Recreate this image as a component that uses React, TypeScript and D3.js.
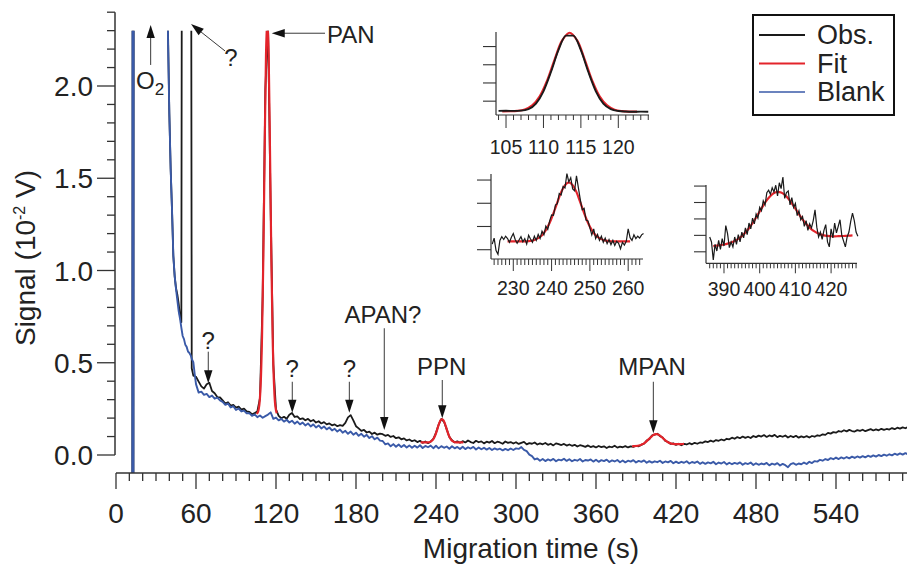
import React from 'react';
import * as d3 from 'd3';

const FONT = "'Liberation Sans', Arial, Helvetica, sans-serif";
const C_OBS = '#1a1a1a';
const C_FIT = '#e3242b';
const C_BLANK = '#3a5aa8';

// ---------- main axis ticks ----------
const xMajorTicks = [0, 60, 120, 180, 240, 300, 360, 420, 480, 540];
const yMajorTicks = [0, 0.5, 1.0, 1.5, 2.0];

// ---------- main chart: observed (black) ----------
const obsEarlyT = [12.2, 12.6, 13.0, 13.4, 38.4, 39, 40, 41, 42, 43, 44, 45, 46, 47, 48, 49, 49.8, 56.0, 56.8, 58];
const obsEarlyV = [-1, 5, -1, 5, 5, 2.3, 1.85, 1.55, 1.33, 1.08, 0.97, 0.905, 0.87, 0.82, 0.75, 0.72, 5, 5, 0.47, 0.43];
const gridStart = 60;
const gridStep = 2;
const obsGridV = [
  0.424, 0.398, 0.372, 0.36, 0.383, 0.392, 0.347, 0.335, 0.314, 0.312,
  0.296, 0.279, 0.286, 0.268, 0.271, 0.257, 0.262, 0.246, 0.251, 0.236,
  0.234, 0.221, 0.227, 0.236, 0.31, 0.86, 1.98, 2.34, 1.33, 0.49,
  0.248, 0.212, 0.199, 0.207, 0.196, 0.218, 0.228, 0.206, 0.209, 0.194,
  0.199, 0.188, 0.196, 0.183, 0.19, 0.176, 0.183, 0.171, 0.178, 0.166,
  0.171, 0.161, 0.166, 0.156, 0.162, 0.158, 0.174, 0.204, 0.216, 0.188,
  0.156, 0.144, 0.131, 0.136, 0.122, 0.127, 0.114, 0.121, 0.11, 0.116,
  0.113, 0.104, 0.109, 0.098, 0.103, 0.091, 0.096, 0.085, 0.09, 0.079,
  0.084, 0.075, 0.08, 0.07, 0.077, 0.066, 0.073, 0.064, 0.072, 0.088,
  0.12, 0.165, 0.196, 0.18, 0.14, 0.098, 0.08, 0.068, 0.074, 0.066,
  0.075, 0.068, 0.079, 0.07, 0.065, 0.077, 0.069, 0.074, 0.063, 0.072,
  0.067, 0.076, 0.064, 0.072, 0.068, 0.061, 0.073, 0.066, 0.07, 0.062,
  0.069, 0.06, 0.066, 0.071, 0.058, 0.064, 0.061, 0.068, 0.057, 0.063,
  0.058, 0.065, 0.055, 0.061, 0.052, 0.063, 0.059, 0.054, 0.06, 0.051,
  0.057, 0.05, 0.055, 0.046, 0.053, 0.049, 0.044, 0.052, 0.043, 0.048,
  0.041, 0.049, 0.043, 0.047, 0.038, 0.046, 0.042, 0.05, 0.04, 0.045,
  0.042, 0.048, 0.041, 0.047, 0.044, 0.05, 0.047, 0.055, 0.061, 0.078,
  0.086, 0.106, 0.11, 0.115, 0.102, 0.095, 0.076, 0.071, 0.06, 0.063,
  0.055, 0.061, 0.053, 0.06, 0.057, 0.064, 0.058, 0.066, 0.061, 0.068,
  0.066, 0.074, 0.07, 0.078, 0.072, 0.081, 0.077, 0.084, 0.079, 0.088,
  0.085, 0.094, 0.088, 0.097, 0.091, 0.1, 0.093, 0.099, 0.092, 0.103,
  0.097, 0.105, 0.1, 0.108, 0.098, 0.106, 0.101, 0.109, 0.097, 0.104,
  0.099, 0.106, 0.095, 0.103, 0.097, 0.104, 0.094, 0.101, 0.096, 0.102,
  0.095, 0.103, 0.099, 0.107, 0.104, 0.112, 0.109, 0.12, 0.116, 0.124,
  0.121, 0.13, 0.126, 0.134, 0.128, 0.136, 0.13, 0.127, 0.135, 0.131,
  0.137, 0.129, 0.135, 0.14, 0.133, 0.139, 0.134, 0.142, 0.136, 0.141,
  0.138, 0.146, 0.14, 0.148, 0.143, 0.15, 0.145, 0.152, 0.147, 0.153,
  0.15,
];

// ---------- main chart: blank (blue) ----------
const blankEarlyT = [12.2, 12.6, 13.0, 13.4, 38.2, 39, 40, 41, 42, 43, 44, 45, 46, 47, 48, 49, 50, 51, 52, 53, 54, 55, 56, 57, 58, 59];
const blankEarlyV = [-1, 5, -1, 5, 5, 2.25, 1.85, 1.55, 1.33, 1.08, 0.97, 0.9, 0.84, 0.78, 0.74, 0.69, 0.645, 0.628, 0.597, 0.586, 0.561, 0.553, 0.541, 0.518, 0.503, 0.44];
const blankGridV = [
  0.384, 0.338, 0.343, 0.326, 0.331, 0.314, 0.322, 0.305, 0.311, 0.296,
  0.288, 0.272, 0.279, 0.258, 0.265, 0.244, 0.252, 0.236, 0.241, 0.226,
  0.227, 0.212, 0.22, 0.205, 0.214, 0.202, 0.211, 0.219, 0.231, 0.196,
  0.203, 0.188, 0.196, 0.181, 0.191, 0.176, 0.186, 0.17, 0.181, 0.166,
  0.176, 0.16, 0.171, 0.155, 0.166, 0.149, 0.16, 0.144, 0.155, 0.139,
  0.149, 0.133, 0.142, 0.127, 0.138, 0.121, 0.131, 0.115, 0.127, 0.11,
  0.121, 0.104, 0.115, 0.099, 0.109, 0.092, 0.102, 0.085, 0.094, 0.078,
  0.076, 0.058, 0.063, 0.047, 0.059, 0.045, 0.057, 0.043, 0.054, 0.041,
  0.052, 0.039, 0.05, 0.04, 0.053, 0.038, 0.049, 0.042, 0.051, 0.037,
  0.05, 0.036, 0.048, 0.039, 0.046, 0.034, 0.047, 0.036, 0.044, 0.033,
  0.045, 0.032, 0.042, 0.035, 0.044, 0.03, 0.041, 0.031, 0.039, 0.029,
  0.038, 0.027, 0.036, 0.029, 0.034, 0.025, 0.033, 0.026, 0.035, 0.027,
  0.036, 0.033, 0.043, 0.028, 0.021, 0.002, -0.006, -0.024, -0.019, -0.031,
  -0.022, -0.033, -0.024, -0.03, -0.021, -0.034, -0.025, -0.029, -0.02, -0.032,
  -0.023, -0.034, -0.026, -0.031, -0.022, -0.035, -0.027, -0.03, -0.024, -0.036,
  -0.026, -0.037, -0.028, -0.033, -0.025, -0.038, -0.029, -0.035, -0.027, -0.039,
  -0.03, -0.04, -0.031, -0.036, -0.028, -0.041, -0.032, -0.037, -0.029, -0.042,
  -0.033, -0.041, -0.034, -0.039, -0.031, -0.043, -0.035, -0.04, -0.032, -0.045,
  -0.036, -0.044, -0.037, -0.042, -0.034, -0.046, -0.038, -0.043, -0.035, -0.048,
  -0.039, -0.048, -0.04, -0.045, -0.037, -0.05, -0.041, -0.046, -0.038, -0.051,
  -0.042, -0.05, -0.043, -0.048, -0.04, -0.053, -0.044, -0.049, -0.041, -0.054,
  -0.045, -0.053, -0.046, -0.051, -0.043, -0.056, -0.047, -0.052, -0.044, -0.057,
  -0.048, -0.055, -0.066, -0.05, -0.044, -0.053, -0.046, -0.05, -0.041, -0.049,
  -0.037, -0.044, -0.033, -0.036, -0.026, -0.031, -0.022, -0.027, -0.017, -0.023,
  -0.014, -0.022, -0.013, -0.019, -0.011, -0.018, -0.009, -0.016, -0.008, -0.014,
  -0.006, -0.013, -0.004, -0.01, -0.002, -0.009, 0.0, -0.006, 0.002, -0.004,
  0.004, -0.002, 0.007, 0.001, 0.009, 0.002, 0.01, 0.004, 0.012, 0.005,
  0.01,
];

// ---------- fits (red) ----------
const panFitT = [104.5, 105.5, 106.5, 107.5, 108.5, 109.5, 110.5, 111.5, 112.5, 113.5, 114.5, 115.5, 116.5, 117.5, 118.5, 119.5, 120.5, 121.5, 122.5];
const panFitV = [0.22, 0.223, 0.234, 0.272, 0.383, 0.634, 1.072, 1.649, 2.168, 2.38, 2.168, 1.649, 1.072, 0.634, 0.383, 0.265, 0.226, 0.214, 0.21];
const ppnFitT = [228.5, 229.5, 230.5, 231.5, 232.5, 233.5, 234.5, 235.5, 236.5, 237.5, 238.5, 239.5, 240.5, 241.5, 242.5, 243.5, 244.5, 245.5, 246.5, 247.5, 248.5, 249.5, 250.5, 251.5, 252.5, 253.5, 254.5, 255.5, 256.5, 257.5, 258.5, 259.5, 260.5];
const ppnFitV = [0.068, 0.068, 0.068, 0.068, 0.068, 0.068, 0.069, 0.071, 0.075, 0.081, 0.092, 0.108, 0.129, 0.152, 0.174, 0.189, 0.195, 0.189, 0.174, 0.152, 0.129, 0.108, 0.092, 0.081, 0.075, 0.071, 0.069, 0.068, 0.068, 0.068, 0.068, 0.068, 0.068];
const mpanFitT = [387, 388, 389, 390, 391, 392, 393, 394, 395, 396, 397, 398, 399, 400, 401, 402, 403, 404, 405, 406, 407, 408, 409, 410, 411, 412, 413, 414, 415, 416, 417, 418, 419, 420, 421, 422, 423, 424, 425, 426];
const mpanFitV = [0.047, 0.0476, 0.0482, 0.0489, 0.0499, 0.0513, 0.0532, 0.0557, 0.0591, 0.0634, 0.0687, 0.0749, 0.0818, 0.0891, 0.0963, 0.1028, 0.108, 0.1116, 0.113, 0.1122, 0.1094, 0.1048, 0.0989, 0.0925, 0.0858, 0.0795, 0.0741, 0.0694, 0.0657, 0.0631, 0.0612, 0.0599, 0.0593, 0.0589, 0.0588, 0.059, 0.0592, 0.0593, 0.0597, 0.06];

// ---------- inset observed data ----------
const panObsT = [104, 105, 106, 107, 108, 109, 110, 111, 112, 113, 114, 115, 116, 117, 118, 119, 120, 121, 122, 123, 124];
const panObsV = [0.232, 0.235, 0.234, 0.24, 0.28, 0.43, 0.77, 1.3, 1.9, 2.3, 2.3, 1.9, 1.3, 0.77, 0.43, 0.28, 0.23, 0.215, 0.21, 0.212, 0.208];
const ppnObsStart = 224.5;
const ppnObsV = [
  0.062, 0.075, 0.048, 0.040, 0.070, 0.078, 0.072, 0.079, 0.074, 0.066,
  0.077, 0.085, 0.072, 0.064, 0.071, 0.078, 0.067, 0.074, 0.062, 0.081,
  0.073, 0.066, 0.079, 0.070, 0.083, 0.074, 0.090, 0.082, 0.101, 0.094,
  0.112, 0.125, 0.124, 0.146, 0.149, 0.171, 0.168, 0.186, 0.183, 0.214,
  0.196, 0.205, 0.181, 0.177, 0.209, 0.183, 0.158, 0.136, 0.139, 0.114,
  0.112, 0.097, 0.082, 0.095, 0.074, 0.083, 0.070, 0.079, 0.066, 0.075,
  0.063, 0.072, 0.061, 0.070, 0.059, 0.068, 0.064, 0.052, 0.066, 0.060,
  0.068, 0.095, 0.076, 0.070, 0.082, 0.074, 0.079, 0.075, 0.082, 0.085,
];
const mpanObsStart = 386;
const mpanObsV = [
  0.058, 0.052, 0.030, 0.049, 0.041, 0.054, 0.043, 0.056, 0.047, 0.072,
  0.062, 0.045, 0.052, 0.046, 0.058, 0.049, 0.061, 0.052, 0.064, 0.057,
  0.069, 0.061, 0.075, 0.068, 0.081, 0.074, 0.086, 0.081, 0.094, 0.090,
  0.102, 0.097, 0.112, 0.115, 0.110, 0.118, 0.113, 0.121, 0.108, 0.124,
  0.117, 0.131, 0.105, 0.112, 0.114, 0.097, 0.106, 0.094, 0.099, 0.084,
  0.090, 0.079, 0.083, 0.071, 0.078, 0.066, 0.074, 0.069, 0.078, 0.091,
  0.070, 0.058, 0.064, 0.055, 0.066, 0.073, 0.052, 0.046, 0.068, 0.057,
  0.075, 0.063, 0.071, 0.079, 0.060, 0.053, 0.046, 0.058, 0.064, 0.077,
  0.087, 0.078, 0.064, 0.059,
];
const insetObsStep = 0.5;

// ---------- annotations (data coords: tip, tail, label) ----------
const annotations = [
  { label: '?', tipT: 56.25, tipV: 2.336, tailT: 81.75, tailV: 2.19, labT: 86.25, labV: 2.106, anchor: 'middle' },
  { label: 'PAN', tipT: 116.8, tipV: 2.286, tailT: 156.75, tailV: 2.286, labT: 158.25, labV: 2.233, anchor: 'start' },
  { label: '?', tipT: 69.2, tipV: 0.389, tailT: 69.2, tailV: 0.56, labT: 69.2, labV: 0.577, anchor: 'middle' },
  { label: '?', tipT: 132.2, tipV: 0.229, tailT: 132.2, tailV: 0.397, labT: 132.2, labV: 0.424, anchor: 'middle' },
  { label: '?', tipT: 175, tipV: 0.229, tailT: 175, tailV: 0.397, labT: 175, labV: 0.424, anchor: 'middle' },
  { label: 'APAN?', tipT: 201.2, tipV: 0.1355, tailT: 201.2, tailV: 0.687, labT: 200.25, labV: 0.714, anchor: 'middle' },
  { label: 'PPN', tipT: 244.7, tipV: 0.199, tailT: 244.7, tailV: 0.4065, labT: 244.3, labV: 0.4336, anchor: 'middle' },
  { label: 'MPAN', tipT: 403, tipV: 0.1176, tailT: 403, tailV: 0.397, labT: 402, labV: 0.4336, anchor: 'middle' },
];
const o2Arrow = { tipT: 26, tipV: 2.33, tailT: 26, tailV: 2.114, labT: 15, labV: 1.984 };

const legendItems = [
  { label: 'Obs.', color: C_OBS },
  { label: 'Fit', color: C_FIT },
  { label: 'Blank', color: C_BLANK },
];

type P = [number, number];
const zip = (t: number[], v: number[]): P[] => t.map((tt, i) => [tt, v[i]] as P);
const gridPts = (start: number, step: number, v: number[]): P[] => v.map((vv, i) => [start + i * step, vv] as P);

function Arrow({ x1, y1, x2, y2 }: { x1: number; y1: number; x2: number; y2: number }) {
  const dx = x2 - x1, dy = y2 - y1;
  const len = Math.hypot(dx, dy);
  const ux = dx / len, uy = dy / len;
  const hl = 13, hw = 4.2;
  const bx = x2 - ux * hl, by = y2 - uy * hl;
  const px = -uy, py = ux;
  return (
    <g>
      <line x1={x1} y1={y1} x2={bx + ux * 2} y2={by + uy * 2} stroke="#3a3a3a" strokeWidth={1} />
      <polygon points={`${x2},${y2} ${bx + px * hw},${by + py * hw} ${bx - px * hw},${by - py * hw}`} fill="#111" />
    </g>
  );
}

interface InsetProps {
  xd: [number, number]; xr: [number, number];
  yd: [number, number]; yr: [number, number];
  minorFrom: number; minorTo: number; majors: number[]; yTicks: number[];
  obs: P[]; fit: P[]; smoothObs?: boolean;
  labelDy: number; majorLen: number; minorLen: number; yTickLen: number;
}

function Inset(p: InsetProps) {
  const x = d3.scaleLinear().domain(p.xd).range(p.xr);
  const y = d3.scaleLinear().domain(p.yd).range(p.yr);
  const obsLine = d3.line<P>().x(d => x(d[0])).y(d => y(d[1])).curve(p.smoothObs ? d3.curveMonotoneX : d3.curveLinear);
  const fitLine = d3.line<P>().x(d => x(d[0])).y(d => y(d[1])).curve(d3.curveCatmullRom);
  const minors = d3.range(p.minorFrom, p.minorTo + 0.001, 1);
  const x0 = p.xr[0], yb = p.yr[0];
  return (
    <g>
      <path d={fitLine(p.fit) || ''} fill="none" stroke={C_FIT} strokeWidth={2.2} />
      <path d={obsLine(p.obs) || ''} fill="none" stroke={C_OBS} strokeWidth={p.smoothObs ? 1.9 : 1.2} />
      <line x1={x0} y1={p.yr[1]} x2={x0} y2={yb} stroke="#333" strokeWidth={1.2} />
      <line x1={x0} y1={yb} x2={p.xr[1]} y2={yb} stroke="#333" strokeWidth={1.2} />
      {p.yTicks.map(t => (
        <line key={'y' + t} x1={x0 - p.yTickLen} x2={x0} y1={y(t)} y2={y(t)} stroke="#333" strokeWidth={1.1} />
      ))}
      {minors.map(t => (
        <line key={'m' + t} x1={x(t)} x2={x(t)} y1={yb} y2={yb + (p.majors.includes(t) ? p.majorLen : p.minorLen)} stroke="#333" strokeWidth={1} />
      ))}
      {p.majors.map(t => (
        <text key={'l' + t} x={x(t)} y={yb + p.labelDy} textAnchor="middle" fontSize={19.5} fontFamily={FONT} fill="#222">{t}</text>
      ))}
    </g>
  );
}

export default function App() {
  const x = d3.scaleLinear().domain([0, 600]).range([116, 916]);
  const y = d3.scaleLinear().domain([0, 2.4]).range([455, 12.2]);
  const xAxisY = 473;
  const line = d3.line<P>().x(d => x(d[0])).y(d => y(d[1]));
  const smooth = d3.line<P>().x(d => x(d[0])).y(d => y(d[1])).curve(d3.curveCatmullRom);

  const obsPts = [...zip(obsEarlyT, obsEarlyV), ...gridPts(gridStart, gridStep, obsGridV)];
  const blankPts = [...zip(blankEarlyT, blankEarlyV), ...gridPts(gridStart, gridStep, blankGridV)];
  const panFit = zip(panFitT, panFitV);
  const ppnFit = zip(ppnFitT, ppnFitV);
  const mpanFit = zip(mpanFitT, mpanFitV);
  const panFitMain = panFit.filter(d => d[0] >= 105.5 && d[0] <= 120.5);

  const yMinor = d3.range(0, 2.401, 0.1);
  const xMinor = d3.range(0, 601, 10);
  const fmt = d3.format('.1f');

  return (
    <svg width={907} height={564} style={{ position: 'absolute', left: 0, top: 0, background: '#fff' }} fontFamily={FONT}>
      <defs>
        <clipPath id="plotClip">
          <rect x={x(0)} y={y(2.3)} width={x(600) - x(0)} height={xAxisY - y(2.3)} />
        </clipPath>
      </defs>
      <rect x={0} y={0} width={907} height={564} fill="#fff" />

      {/* data */}
      <g clipPath="url(#plotClip)">
        <path d={line(obsPts) || ''} fill="none" stroke={C_OBS} strokeWidth={1.8} strokeLinejoin="round" />
        <path d={line(blankPts) || ''} fill="none" stroke={C_BLANK} strokeWidth={1.9} strokeLinejoin="round" />
        <path d={smooth(panFitMain) || ''} fill="none" stroke={C_FIT} strokeWidth={2.2} />
        <path d={smooth(ppnFit) || ''} fill="none" stroke={C_FIT} strokeWidth={2.2} />
        <path d={smooth(mpanFit) || ''} fill="none" stroke={C_FIT} strokeWidth={2.2} />
      </g>

      {/* y axis */}
      <line x1={115} x2={115} y1={y(2.4)} y2={y(0)} stroke="#333" strokeWidth={1.5} />
      {yMinor.map(v => {
        const major = yMajorTicks.some(m => Math.abs(m - v) < 1e-6);
        return <line key={'ym' + v} x1={major ? 97 : 107} x2={115} y1={y(v)} y2={y(v)} stroke="#333" strokeWidth={1.3} />;
      })}
      {yMajorTicks.map(v => (
        <text key={'yl' + v} x={93} y={y(v) + 10} textAnchor="end" fontSize={28} fill="#222">{fmt(v)}</text>
      ))}
      <text transform={`translate(35,258) rotate(-90)`} textAnchor="middle" fontSize={28} fill="#222">
        Signal (10<tspan dy={-10} fontSize={16}>-2</tspan><tspan dy={10}> V)</tspan>
      </text>

      {/* x axis */}
      <line x1={x(0)} x2={x(600)} y1={xAxisY} y2={xAxisY} stroke="#333" strokeWidth={1.5} />
      {xMinor.map(t => {
        const major = t % 60 === 0;
        return <line key={'xm' + t} x1={x(t)} x2={x(t)} y1={xAxisY} y2={xAxisY + (major ? 16 : 8)} stroke="#333" strokeWidth={1.3} />;
      })}
      {xMajorTicks.map(t => (
        <text key={'xl' + t} x={x(t)} y={523} textAnchor="middle" fontSize={28} fill="#222">{t}</text>
      ))}
      <text x={531} y={558} textAnchor="middle" fontSize={28} fill="#222">Migration time (s)</text>

      {/* annotations */}
      <Arrow x1={x(o2Arrow.tailT)} y1={y(o2Arrow.tailV)} x2={x(o2Arrow.tipT)} y2={y(o2Arrow.tipV)} />
      <text x={x(o2Arrow.labT)} y={y(o2Arrow.labV)} fontSize={24} fill="#222">
        O<tspan dy={6} fontSize={17}>2</tspan>
      </text>
      {annotations.map((a, i) => (
        <g key={'an' + i}>
          <Arrow x1={x(a.tailT)} y1={y(a.tailV)} x2={x(a.tipT)} y2={y(a.tipV)} />
          <text x={x(a.labT)} y={y(a.labV)} textAnchor={a.anchor as any} fontSize={24} fill="#222">{a.label}</text>
        </g>
      ))}

      {/* insets */}
      <Inset xd={[103.66, 124.1]} xr={[496, 649]} yd={[0.12, 2.4]} yr={[115, 32]}
        minorFrom={104} minorTo={124} majors={[105, 110, 115, 120]} yTicks={[0.5, 1.0, 1.5, 2.0]}
        obs={zip(panObsT, panObsV)} fit={panFit} smoothObs labelDy={39} majorLen={13} minorLen={5} yTickLen={13} />
      <Inset xd={[224.18, 263.87]} xr={[491, 643]} yd={[0.03, 0.213]} yr={[259, 174]}
        minorFrom={225} minorTo={263} majors={[230, 240, 250, 260]} yTicks={[0.05, 0.1, 0.15, 0.2]}
        obs={gridPts(ppnObsStart, insetObsStep, ppnObsV)} fit={ppnFit} labelDy={36} majorLen={12} minorLen={6} yTickLen={14} />
      <Inset xd={[384.96, 427.26]} xr={[706, 857]} yd={[0.026, 0.1213]} yr={[263.3, 185]}
        minorFrom={386} minorTo={427} majors={[390, 400, 410, 420]} yTicks={[0.04, 0.06, 0.08, 0.1, 0.12]}
        obs={gridPts(mpanObsStart, insetObsStep, mpanObsV)} fit={mpanFit} labelDy={33} majorLen={10} minorLen={5} yTickLen={12} />

      {/* legend */}
      <rect x={753} y={15} width={141} height={100} fill="#fff" stroke="#111" strokeWidth={2} />
      {legendItems.map((it, i) => (
        <g key={it.label}>
          <line x1={759} x2={805} y1={35 + i * 28.5} y2={35 + i * 28.5} stroke={it.color} strokeWidth={it.label === 'Blank' ? 1.5 : 2} />
          <text x={817} y={44 + i * 28.5} fontSize={27} fill="#222">{it.label}</text>
        </g>
      ))}
    </svg>
  );
}
